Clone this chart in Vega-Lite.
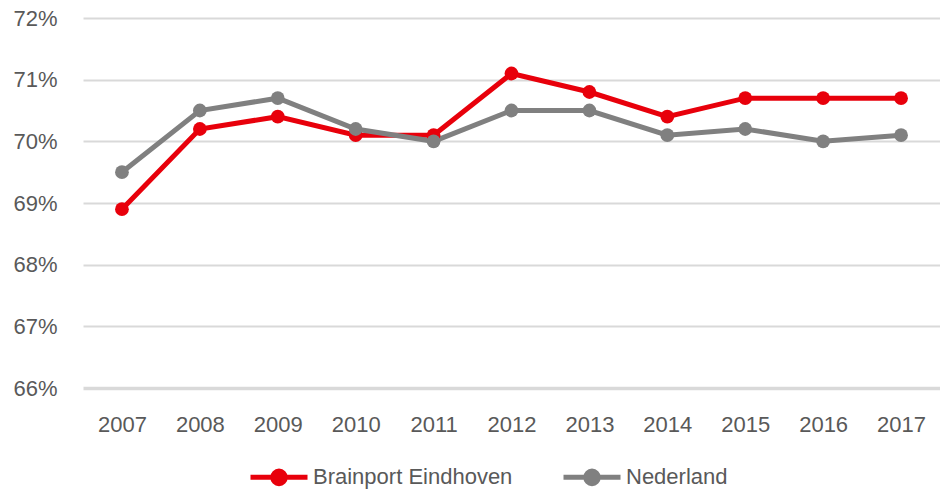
{
  "$schema": "https://vega.github.io/schema/vega-lite/v6.json",
  "width": 857,
  "height": 370,
  "autosize": {"type": "none"},
  "padding": {"left": 83, "top": 18, "right": 0, "bottom": 102},
  "background": "white",
  "config": {
    "view": {"stroke": null},
    "font": "Liberation Sans"
  },
  "data": {
    "values": [
      {"year": "2007", "series": "Brainport Eindhoven", "value": 0.689},
      {"year": "2008", "series": "Brainport Eindhoven", "value": 0.702},
      {"year": "2009", "series": "Brainport Eindhoven", "value": 0.704},
      {"year": "2010", "series": "Brainport Eindhoven", "value": 0.701},
      {"year": "2011", "series": "Brainport Eindhoven", "value": 0.701},
      {"year": "2012", "series": "Brainport Eindhoven", "value": 0.711},
      {"year": "2013", "series": "Brainport Eindhoven", "value": 0.708},
      {"year": "2014", "series": "Brainport Eindhoven", "value": 0.704},
      {"year": "2015", "series": "Brainport Eindhoven", "value": 0.707},
      {"year": "2016", "series": "Brainport Eindhoven", "value": 0.707},
      {"year": "2017", "series": "Brainport Eindhoven", "value": 0.707},
      {"year": "2007", "series": "Nederland", "value": 0.695},
      {"year": "2008", "series": "Nederland", "value": 0.705},
      {"year": "2009", "series": "Nederland", "value": 0.707},
      {"year": "2010", "series": "Nederland", "value": 0.702},
      {"year": "2011", "series": "Nederland", "value": 0.700},
      {"year": "2012", "series": "Nederland", "value": 0.705},
      {"year": "2013", "series": "Nederland", "value": 0.705},
      {"year": "2014", "series": "Nederland", "value": 0.701},
      {"year": "2015", "series": "Nederland", "value": 0.702},
      {"year": "2016", "series": "Nederland", "value": 0.700},
      {"year": "2017", "series": "Nederland", "value": 0.701}
    ]
  },
  "mark": {"type": "line", "strokeWidth": 5, "point": {"size": 190, "filled": true, "opacity": 1}},
  "encoding": {
    "x": {
      "field": "year", "type": "ordinal",
      "scale": {"type": "point", "padding": 0.5},
      "axis": {
        "title": null, "labelAngle": 0, "domain": false, "ticks": false,
        "labelFontSize": 22, "labelColor": "#595959", "labelPadding": 36, "labelBaseline": "middle"
      }
    },
    "y": {
      "field": "value", "type": "quantitative",
      "scale": {"domain": [0.66, 0.72], "nice": false, "zero": false},
      "axis": {
        "title": null, "format": ".0%", "values": [0.66, 0.67, 0.68, 0.69, 0.70, 0.71, 0.72],
        "labelOverlap": false,
        "domain": false, "ticks": false, "gridColor": "#d9d9d9",
        "gridWidth": {"condition": {"test": "datum.value < 0.665", "value": 3.5}, "value": 2},
        "labelFontSize": 22, "labelColor": "#595959", "labelPadding": 26
      }
    },
    "color": {
      "field": "series", "type": "nominal",
      "scale": {"domain": ["Brainport Eindhoven", "Nederland"], "range": ["#e8000b", "#808080"]},
      "legend": {
        "title": null, "orient": "none", "direction": "horizontal",
        "legendX": 165, "legendY": 428,
        "labelFontSize": 22, "labelColor": "#595959", "labelLimit": 400,
        "symbolType": "M-1,0H1M0.22,0A0.22,0.22 0 1,1 -0.22,0A0.22,0.22 0 1,1 0.22,0Z",
        "symbolSize": 3249, "symbolStrokeWidth": 5, "symbolOpacity": 1,
        "columnPadding": 40, "labelOffset": 3
      }
    }
  }
}
